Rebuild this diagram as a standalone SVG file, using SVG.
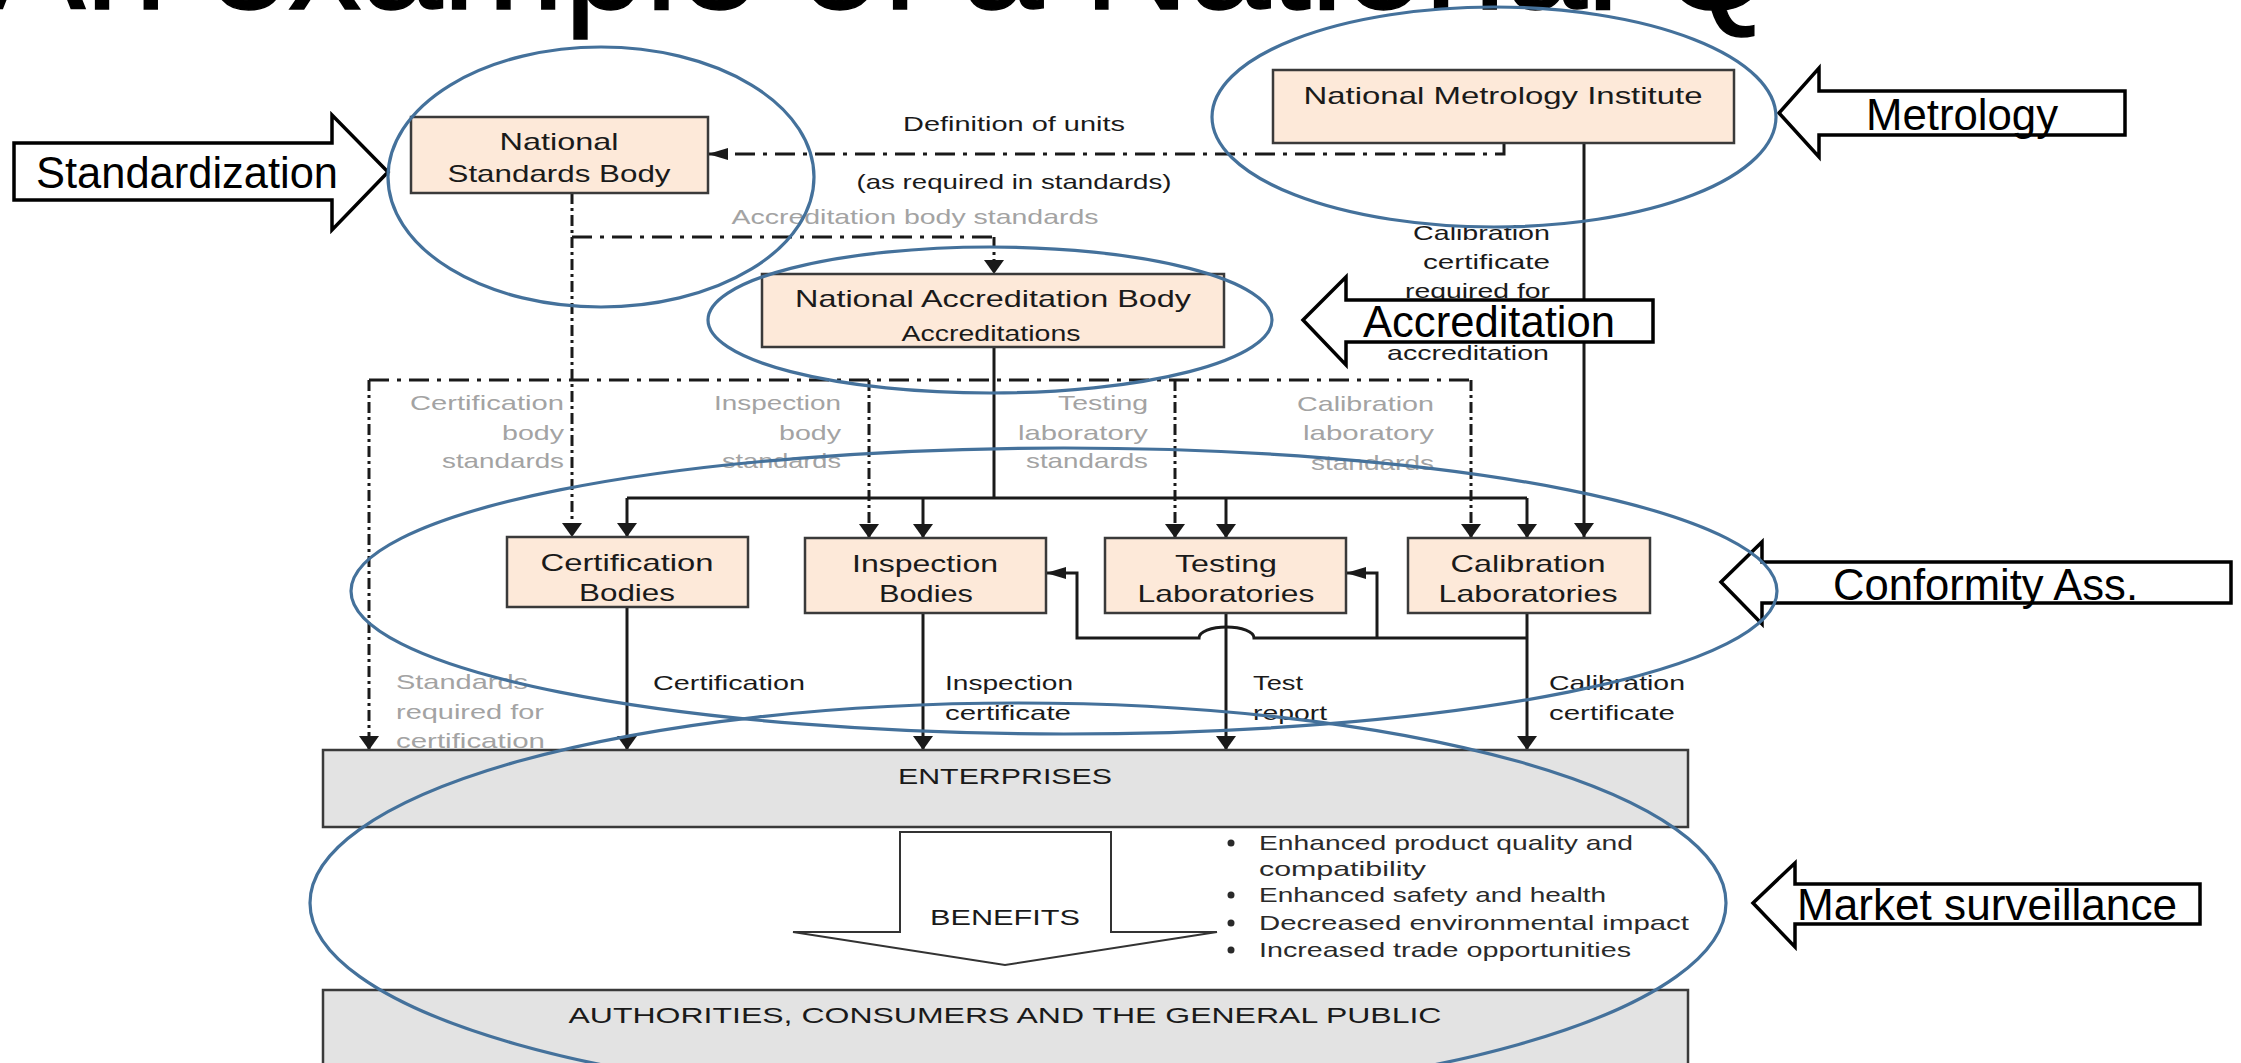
<svg xmlns="http://www.w3.org/2000/svg" width="2241" height="1063" viewBox="0 0 2241 1063">
<style>
.box{fill:#fde9d9;stroke:#3a3a3a;stroke-width:2.5}
.gbox{fill:#e3e3e3;stroke:#3a3a3a;stroke-width:2.5}
.t{font-family:"Liberation Sans",Arial,sans-serif;fill:#1a1a1a}
.bt{font-size:24px}
.lb{font-size:21px}
.gr{fill:#a3a3a3}
.side{fill:#fff;stroke:#000;stroke-width:3.5;stroke-linejoin:miter}
.st{font-family:"Liberation Sans",Arial,sans-serif;font-size:44px;fill:#000}
.ell{fill:none;stroke:#44719b;stroke-width:3.2}
.s{fill:none;stroke:#1a1a1a;stroke-width:3}
.ddh{fill:none;stroke:#1a1a1a;stroke-width:3;stroke-dasharray:20 8 4 8}
.ddv{fill:none;stroke:#1a1a1a;stroke-width:3;stroke-dasharray:11 4 3 4}
.title{font-family:"Liberation Sans",Arial,sans-serif;font-size:146px;fill:#000;stroke:#000;stroke-width:1.5}
</style>
<defs>
<marker id="arrV" viewBox="0 0 14 20" refX="14" refY="10" markerWidth="14" markerHeight="20" markerUnits="userSpaceOnUse" orient="auto"><path d="M0,0 L14,10 L0,20 Z" fill="#1a1a1a"/></marker>
<marker id="arrH" viewBox="0 0 20 12" refX="20" refY="6" markerWidth="20" markerHeight="12" markerUnits="userSpaceOnUse" orient="auto"><path d="M0,0 L20,6 L0,12 Z" fill="#1a1a1a"/></marker>
</defs>
<rect x="0" y="0" width="2241" height="1063" fill="#fff"/>
<text class="title" x="-12" y="9">An example of a National Q</text>

<g id="connectors">
<path class="s" d="M1584,143 V537" marker-end="url(#arrV)"/>
<path class="s" d="M994,347 V498 M627,498 H1527"/>
<path class="s" d="M627,498 V537" marker-end="url(#arrV)"/>
<path class="s" d="M923,498 V538" marker-end="url(#arrV)"/>
<path class="s" d="M1226,498 V538" marker-end="url(#arrV)"/>
<path class="s" d="M1527,498 V538" marker-end="url(#arrV)"/>
<path class="s" d="M627,607 V750" marker-end="url(#arrV)"/>
<path class="s" d="M923,613 V750" marker-end="url(#arrV)"/>
<path class="s" d="M1226,613 V750" marker-end="url(#arrV)"/>
<path class="s" d="M1527,613 V750" marker-end="url(#arrV)"/>
<path class="s" d="M1527,638 H1254 A27.5,11 0 0 0 1199,638 H1077 V573 H1046" marker-end="url(#arrH)"/>
<path class="s" d="M1377,638 V573 H1346" marker-end="url(#arrH)"/>
<path class="ddh" d="M1504,143 V154 H708" marker-end="url(#arrH)"/>
<path class="ddv" d="M572,193 V537" marker-end="url(#arrV)"/>
<path class="ddh" d="M572,237 H994"/>
<path class="ddv" d="M994,237 V274" marker-end="url(#arrV)"/>
<path class="ddh" d="M369,380 H1471"/>
<path class="ddv" d="M369,380 V750" marker-end="url(#arrV)"/>
<path class="ddv" d="M869,380 V538" marker-end="url(#arrV)"/>
<path class="ddv" d="M1175,380 V538" marker-end="url(#arrV)"/>
<path class="ddv" d="M1471,380 V538" marker-end="url(#arrV)"/>
</g>

<g id="connector-labels">
<text class="t lb" x="1014" y="131" text-anchor="middle" textLength="222" lengthAdjust="spacingAndGlyphs">Definition of units</text>
<text class="t lb" x="1014" y="189" text-anchor="middle" textLength="315" lengthAdjust="spacingAndGlyphs">(as required in standards)</text>
<text class="t lb gr" x="915" y="224" text-anchor="middle" textLength="367" lengthAdjust="spacingAndGlyphs">Accreditation body standards</text>
<text class="t lb" x="1550" y="240" text-anchor="end" textLength="137" lengthAdjust="spacingAndGlyphs">Calibration</text>
<text class="t lb" x="1550" y="269" text-anchor="end" textLength="127" lengthAdjust="spacingAndGlyphs">certificate</text>
<text class="t lb" x="1550" y="298" text-anchor="end" textLength="145" lengthAdjust="spacingAndGlyphs">required for</text>
<text class="t lb" x="1549" y="360" text-anchor="end" textLength="162" lengthAdjust="spacingAndGlyphs">accreditation</text>

<text class="t lb gr" x="564" y="410" text-anchor="end" textLength="154" lengthAdjust="spacingAndGlyphs">Certification</text>
<text class="t lb gr" x="564" y="440" text-anchor="end" textLength="62" lengthAdjust="spacingAndGlyphs">body</text>
<text class="t lb gr" x="564" y="468" text-anchor="end" textLength="122" lengthAdjust="spacingAndGlyphs">standards</text>
<text class="t lb gr" x="841" y="410" text-anchor="end" textLength="127" lengthAdjust="spacingAndGlyphs">Inspection</text>
<text class="t lb gr" x="841" y="440" text-anchor="end" textLength="62" lengthAdjust="spacingAndGlyphs">body</text>
<text class="t lb gr" x="841" y="468" text-anchor="end" textLength="119" lengthAdjust="spacingAndGlyphs">standards</text>
<text class="t lb gr" x="1148" y="410" text-anchor="end" textLength="90" lengthAdjust="spacingAndGlyphs">Testing</text>
<text class="t lb gr" x="1148" y="440" text-anchor="end" textLength="130" lengthAdjust="spacingAndGlyphs">laboratory</text>
<text class="t lb gr" x="1148" y="468" text-anchor="end" textLength="122" lengthAdjust="spacingAndGlyphs">standards</text>
<text class="t lb gr" x="1434" y="411" text-anchor="end" textLength="137" lengthAdjust="spacingAndGlyphs">Calibration</text>
<text class="t lb gr" x="1434" y="440" text-anchor="end" textLength="131" lengthAdjust="spacingAndGlyphs">laboratory</text>
<text class="t lb gr" x="1434" y="470" text-anchor="end" textLength="123" lengthAdjust="spacingAndGlyphs">standards</text>

<text class="t lb gr" x="396" y="689" textLength="132" lengthAdjust="spacingAndGlyphs">Standards</text>
<text class="t lb gr" x="396" y="719" textLength="148" lengthAdjust="spacingAndGlyphs">required for</text>
<text class="t lb gr" x="396" y="748" textLength="149" lengthAdjust="spacingAndGlyphs">certification</text>
<text class="t lb" x="653" y="690" textLength="152" lengthAdjust="spacingAndGlyphs">Certification</text>
<text class="t lb" x="945" y="690" textLength="128" lengthAdjust="spacingAndGlyphs">Inspection</text>
<text class="t lb" x="945" y="720" textLength="126" lengthAdjust="spacingAndGlyphs">certificate</text>
<text class="t lb" x="1253" y="690" textLength="50" lengthAdjust="spacingAndGlyphs">Test</text>
<text class="t lb" x="1253" y="720" textLength="74" lengthAdjust="spacingAndGlyphs">report</text>
<text class="t lb" x="1549" y="690" textLength="136" lengthAdjust="spacingAndGlyphs">Calibration</text>
<text class="t lb" x="1549" y="720" textLength="126" lengthAdjust="spacingAndGlyphs">certificate</text>
</g>

<g id="nsb">
<rect class="box" x="411" y="117" width="297" height="76"/>
<text class="t bt" x="559" y="150" text-anchor="middle" textLength="119" lengthAdjust="spacingAndGlyphs">National</text>
<text class="t bt" x="559" y="182" text-anchor="middle" textLength="223" lengthAdjust="spacingAndGlyphs">Standards Body</text>
</g>
<g id="nmi">
<rect class="box" x="1273" y="70" width="461" height="73"/>
<text class="t bt" x="1503" y="104" text-anchor="middle" textLength="399" lengthAdjust="spacingAndGlyphs">National Metrology Institute</text>
</g>
<g id="nab">
<rect class="box" x="762" y="274" width="462" height="73"/>
<text class="t bt" x="993" y="307" text-anchor="middle" textLength="396" lengthAdjust="spacingAndGlyphs">National Accreditation Body</text>
<text class="t" style="font-size:22px" x="991" y="341" text-anchor="middle" textLength="179" lengthAdjust="spacingAndGlyphs">Accreditations</text>
</g>
<g id="cert">
<rect class="box" x="507" y="537" width="241" height="70"/>
<text class="t bt" x="627" y="571" text-anchor="middle" textLength="173" lengthAdjust="spacingAndGlyphs">Certification</text>
<text class="t bt" x="627" y="601" text-anchor="middle" textLength="96" lengthAdjust="spacingAndGlyphs">Bodies</text>
</g>
<g id="insp">
<rect class="box" x="805" y="538" width="241" height="75"/>
<text class="t bt" x="925" y="572" text-anchor="middle" textLength="146" lengthAdjust="spacingAndGlyphs">Inspection</text>
<text class="t bt" x="926" y="602" text-anchor="middle" textLength="94" lengthAdjust="spacingAndGlyphs">Bodies</text>
</g>
<g id="test">
<rect class="box" x="1105" y="538" width="241" height="75"/>
<text class="t bt" x="1226" y="572" text-anchor="middle" textLength="102" lengthAdjust="spacingAndGlyphs">Testing</text>
<text class="t bt" x="1226" y="602" text-anchor="middle" textLength="177" lengthAdjust="spacingAndGlyphs">Laboratories</text>
</g>
<g id="cal">
<rect class="box" x="1408" y="538" width="242" height="75"/>
<text class="t bt" x="1528" y="572" text-anchor="middle" textLength="155" lengthAdjust="spacingAndGlyphs">Calibration</text>
<text class="t bt" x="1528" y="602" text-anchor="middle" textLength="179" lengthAdjust="spacingAndGlyphs">Laboratories</text>
</g>
<g id="enterprises">
<rect class="gbox" x="323" y="750" width="1365" height="77"/>
<text class="t" style="font-size:22px" x="1005" y="784" text-anchor="middle" textLength="214" lengthAdjust="spacingAndGlyphs">ENTERPRISES</text>
</g>
<g id="benefits">
<path d="M900,832 H1111 V932 H1217 L1005,965 L793,932 H900 Z" fill="#fff" stroke="#333" stroke-width="2"/>
<text class="t" style="font-size:22px" x="1005" y="925" text-anchor="middle" textLength="150" lengthAdjust="spacingAndGlyphs">BENEFITS</text>
</g>
<g id="benefit-list" class="t" style="font-size:21px;fill:#2a2a2a">
<circle cx="1231" cy="843" r="3.5" fill="#2a2a2a"/>
<text x="1259" y="850" textLength="374" lengthAdjust="spacingAndGlyphs">Enhanced product quality and</text>
<text x="1259" y="876" textLength="167" lengthAdjust="spacingAndGlyphs">compatibility</text>
<circle cx="1231" cy="895" r="3.5" fill="#2a2a2a"/>
<text x="1259" y="902" textLength="347" lengthAdjust="spacingAndGlyphs">Enhanced safety and health</text>
<circle cx="1231" cy="923" r="3.5" fill="#2a2a2a"/>
<text x="1259" y="930" textLength="430" lengthAdjust="spacingAndGlyphs">Decreased environmental impact</text>
<circle cx="1231" cy="950" r="3.5" fill="#2a2a2a"/>
<text x="1259" y="957" textLength="372" lengthAdjust="spacingAndGlyphs">Increased trade opportunities</text>
</g>
<g id="public">
<rect class="gbox" x="323" y="990" width="1365" height="90"/>
<text class="t" style="font-size:22px" x="1005" y="1023" text-anchor="middle" textLength="873" lengthAdjust="spacingAndGlyphs">AUTHORITIES, CONSUMERS AND THE GENERAL PUBLIC</text>
</g>

<g id="label-standardization">
<path class="side" d="M14,143 H332 V115 L388,172 L332,230 V200 H14 Z"/>
<text class="st" x="36" y="188" textLength="302" lengthAdjust="spacingAndGlyphs">Standardization</text>
</g>
<g id="label-metrology">
<path class="side" d="M1779,113 L1819,68 V91 H2125 V135 H1819 V157 Z"/>
<text class="st" x="1866" y="130" textLength="192" lengthAdjust="spacingAndGlyphs">Metrology</text>
</g>
<g id="label-accreditation">
<path class="side" d="M1303,320 L1346,277 V300 H1653 V342 H1346 V365 Z"/>
<text class="st" x="1363" y="337" textLength="252" lengthAdjust="spacingAndGlyphs">Accreditation</text>
</g>
<g id="label-conformity">
<path class="side" d="M1721,582 L1762,542 V562 H2231 V603 H1762 V624 Z"/>
<text class="st" x="1833" y="600" textLength="305" lengthAdjust="spacingAndGlyphs">Conformity Ass.</text>
</g>
<g id="label-market">
<path class="side" d="M1753,903 L1795,863 V884 H2200 V924 H1795 V947 Z"/>
<text class="st" x="1797" y="920" textLength="380" lengthAdjust="spacingAndGlyphs">Market surveillance</text>
</g>

<g id="ellipses">
<ellipse class="ell" cx="601" cy="177" rx="213" ry="130"/>
<ellipse class="ell" cx="1494" cy="117" rx="282" ry="110"/>
<ellipse class="ell" cx="990" cy="320" rx="282" ry="73"/>
<ellipse class="ell" cx="1064" cy="591" rx="713" ry="143"/>
<ellipse class="ell" cx="1018" cy="903" rx="708" ry="200"/>
</g>
</svg>
